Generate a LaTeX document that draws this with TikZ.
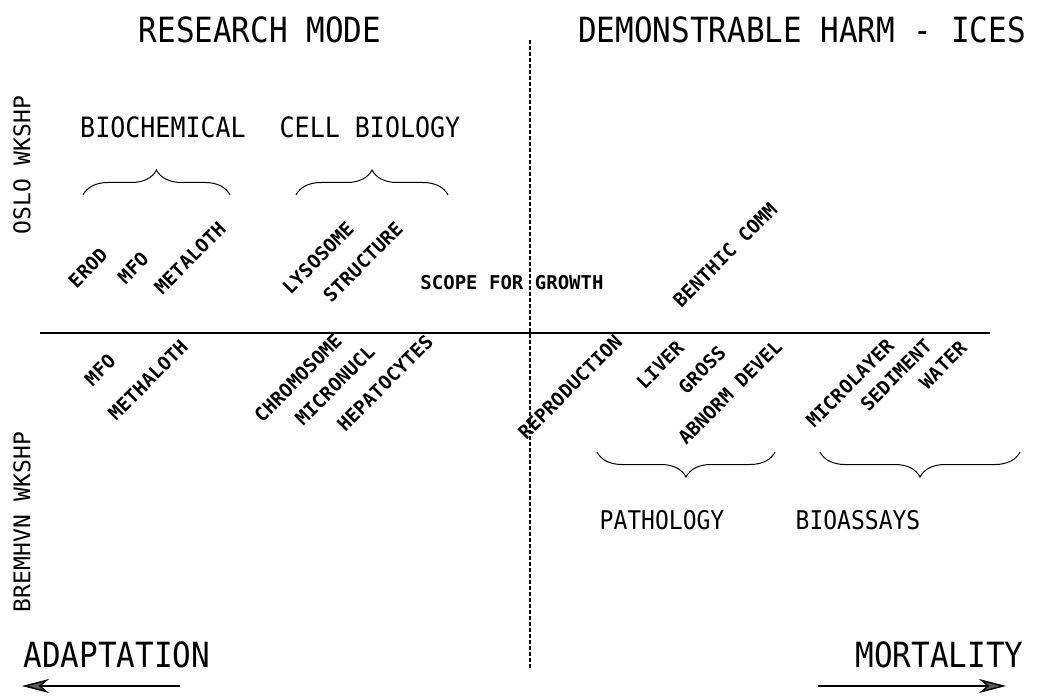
\documentclass[tikz,border=0pt]{standalone}
\usepackage{fontspec}
\setmonofont{DejaVu Sans Mono}
\usetikzlibrary{arrows.meta,decorations.pathreplacing}
\tikzset{
  head/.style={font=\ttfamily\fontsize{31}{31}\selectfont, yscale=1.12},
  group/.style={font=\ttfamily\fontsize{25}{25}\selectfont, yscale=1.12},
  wkshp/.style={font=\ttfamily\fontsize{23}{23}\selectfont, rotate=90},
  tag/.style={font=\ttfamily\bfseries\fontsize{19}{19}\selectfont, inner sep=1pt},
  slant/.style={tag, rotate=45},
  curly/.style={draw, decorate, decoration={brace, amplitude=25pt}, line width=1pt},
  trend/.style={line width=1.4pt, -{Stealth[length=27pt, width=14pt, inset=8pt, fill=black!65]}},
}

\begin{document}
\begin{tikzpicture}[x=1pt, y=-1pt]
\useasboundingbox (0,0) rectangle (1049,700);
% axes
\coordinate (west) at (40,333);
\coordinate (east) at (990,333);
\coordinate (top) at (530,40);
\coordinate (bottom) at (530,670);
\draw[line width=1.2pt] (west) -- (east);
\draw[line width=1.1pt, dash pattern=on 4pt off 2pt] (top) -- (bottom);

\node[head] (research) at (260,30) {RESEARCH MODE};
\node[head] (harm) at (802,30) {DEMONSTRABLE HARM - ICES};
\node[wkshp] (oslo) at (22,165) {OSLO WKSHP};
\node[wkshp] (bremen) at (22,522) {BREMHVN WKSHP};

\node[group] (biochem) at (163,127) {BIOCHEMICAL};
\node[group] (cellbio) at (370,127) {CELL BIOLOGY};
\node[group, font=\ttfamily\fontsize{23}{23}\selectfont] (patho) at (662,520) {PATHOLOGY};
\node[group, font=\ttfamily\fontsize{23}{23}\selectfont] (bioassay) at (858,520) {BIOASSAYS};

% braces: upper ones point up, lower ones down
\foreach \from/\to in {83/230, 296/448}
  \draw[curly] (\from,195) -- (\to,195);
\foreach \from/\to in {597/775, 820/1020}
  \draw[curly] (\to,452) -- (\from,452);

\node[tag] (scope) at (512,283) {SCOPE FOR GROWTH};
\foreach \name/\x/\y/\txt in {erod/88/268/EROD, mfo/133/268/MFO,
    metaloth/190/258/METALOTH, lysosome/318/258/LYSOSOME,
    structure/363/262/STRUCTURE, benthic/725/255/BENTHIC COMM,
    mfob/100/370/MFO, methaloth/148/380/METHALOTH,
    chromosome/298/378/CHROMOSOME, micronucl/335/385/MICRONUCL,
    hepatocytes/385/383/HEPATOCYTES, reproduction/570/387/REPRODUCTION,
    liver/660/365/LIVER, gross/702/370/GROSS, abnorm/730/392/ABNORM DEVEL,
    microlayer/850/383/MICROLAYER, sediment/896/375/SEDIMENT,
    water/943/365/WATER}
  \node[slant] (\name) at (\x,\y) {\txt};

% direction of effect
\node[head, anchor=west] (adapt) at (20,655) {ADAPTATION};
\node[head, anchor=east] (mort) at (1027,655) {MORTALITY};
\coordinate (adapt-tail) at (180,686);
\coordinate (adapt-tip) at (22,686);
\coordinate (mort-tail) at (818,686);
\coordinate (mort-tip) at (1006,686);
\draw[trend] (adapt-tail) -- (adapt-tip);
\draw[trend] (mort-tail) -- (mort-tip);
\end{tikzpicture}
\end{document}
